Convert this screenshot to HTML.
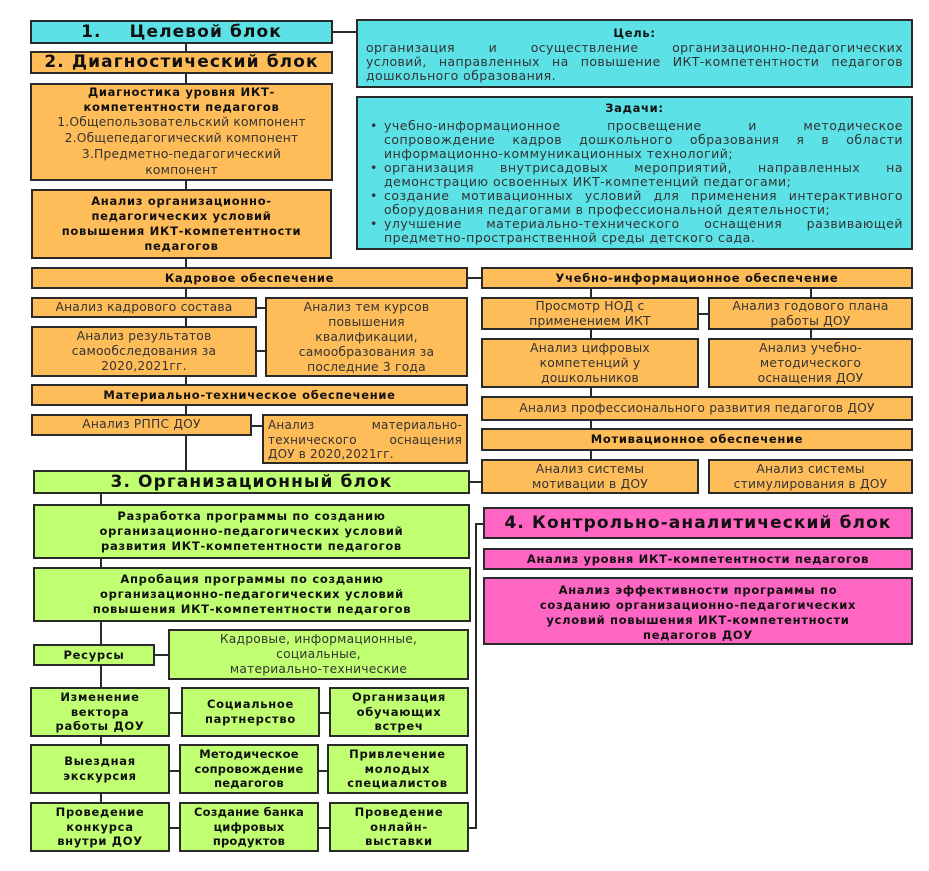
<!DOCTYPE html>
<html><head><meta charset="utf-8"><style>
body{margin:0;width:929px;height:871px;background:#fff;position:relative;overflow:hidden;font-family:"DejaVu Sans","Liberation Sans",sans-serif;color:#333}
.b{position:absolute;box-sizing:border-box;border:2px solid #2a2a2a;display:flex;align-items:center;justify-content:center;text-align:center;font-size:12.3px;line-height:1.3;padding:0 2px;white-space:nowrap;letter-spacing:0.2px}
.c{background:#5ce1e6}.o{background:#ffbd59}.g{background:#c1ff72}.p{background:#ff66c4}
.h{font-weight:bold;font-size:11.5px;line-height:1.3;color:#111;letter-spacing:0.7px}
.t{font-weight:bold;font-size:17px;color:#111;letter-spacing:1.1px}
.l{position:absolute;background:#2a2a2a}
.j{display:block;text-align:justify;text-align-last:justify;white-space:nowrap}
.e{display:block;text-align:left}
.li{position:relative;padding-left:18px}
.li:before{content:"•";position:absolute;left:4px;top:0}
</style></head><body>
<div class="l" style="left:185px;top:40px;width:2px;height:440px"></div>
<div class="l" style="left:333px;top:31px;width:23px;height:2px"></div>
<div class="l" style="left:468px;top:277px;width:13px;height:2px"></div>
<div class="l" style="left:590px;top:289px;width:2px;height:170px"></div>
<div class="l" style="left:810px;top:289px;width:2px;height:50px"></div>
<div class="l" style="left:699px;top:313px;width:9px;height:2px"></div>
<div class="l" style="left:257px;top:307px;width:8px;height:2px"></div>
<div class="l" style="left:257px;top:350px;width:8px;height:2px"></div>
<div class="l" style="left:252px;top:425px;width:10px;height:2px"></div>
<div class="l" style="left:470px;top:481px;width:11px;height:2px"></div>
<div class="l" style="left:100px;top:494px;width:2px;height:310px"></div>
<div class="l" style="left:155px;top:654px;width:13px;height:2px"></div>
<div class="l" style="left:170px;top:712px;width:160px;height:2px"></div>
<div class="l" style="left:170px;top:770px;width:160px;height:2px"></div>
<div class="l" style="left:170px;top:827px;width:160px;height:2px"></div>
<div class="l" style="left:469px;top:827px;width:8px;height:2px"></div>
<div class="l" style="left:475px;top:523px;width:2px;height:306px"></div>
<div class="l" style="left:475px;top:523px;width:8px;height:2px"></div>

<div class="b c t" style="left:30px;top:20px;width:303px;height:24px">1.&nbsp;&nbsp;&nbsp;&nbsp;Целевой блок</div>
<div class="b c" style="left:356px;top:19px;width:557px;height:69px;display:block;padding:4px 8px;line-height:14px;font-size:12.5px;letter-spacing:0.4px"><div class="h" style="text-align:center;line-height:16px">Цель:</div><span class="j">организация и осуществление организационно-педагогических</span><span class="j">условий, направленных на повышение ИКТ-компетентности педагогов</span><span class="e">дошкольного образования.</span></div>
<div class="b o t" style="left:30px;top:51px;width:303px;height:23px">2. Диагностический блок</div>
<div class="b o" style="left:30px;top:83px;width:303px;height:98px;flex-direction:column"><div class="h">Диагностика уровня ИКТ-<br>компетентности педагогов</div><div>1.Общепользовательский компонент<br>2.Общепедагогический компонент<br>3.Предметно-педагогический<br>компонент</div></div>
<div class="b c" style="left:356px;top:96px;width:557px;height:154px;display:block;padding:3px 8px;line-height:14px;font-size:12.5px;letter-spacing:0.5px"><div class="h" style="text-align:center;margin-bottom:3px">Задачи:</div>
<div class="li"><span class="j">учебно-информационное просвещение и методическое</span><span class="j">сопровождение кадров дошкольного образования я в области</span><span class="e">информационно-коммуникационных технологий;</span></div>
<div class="li"><span class="j">организация внутрисадовых мероприятий, направленных на</span><span class="e">демонстрацию освоенных ИКТ-компетенций педагогами;</span></div>
<div class="li"><span class="j">создание мотивационных условий для применения интерактивного</span><span class="e">оборудования педагогами в профессиональной деятельности;</span></div>
<div class="li"><span class="j">улучшение материально-технического оснащения развивающей</span><span class="e">предметно-пространственной среды детского сада.</span></div></div>
<div class="b o h" style="left:31px;top:189px;width:301px;height:70px">Анализ организационно-<br>педагогических условий<br>повышения ИКТ-компетентности<br>педагогов</div>
<div class="b o h" style="left:31px;top:267px;width:437px;height:22px">Кадровое обеспечение</div>
<div class="b o h" style="left:481px;top:267px;width:432px;height:22px">Учебно-информационное обеспечение</div>
<div class="b o" style="left:31px;top:297px;width:226px;height:21px">Анализ кадрового состава</div>
<div class="b o" style="left:265px;top:297px;width:203px;height:80px;line-height:15px">Анализ тем курсов<br>повышения<br>квалификации,<br>самообразования за<br>последние 3 года</div>
<div class="b o" style="left:31px;top:326px;width:226px;height:51px;line-height:15px">Анализ результатов<br>самообследования за<br>2020,2021гг.</div>
<div class="b o h" style="left:31px;top:384px;width:437px;height:22px">Материально-техническое обеспечение</div>
<div class="b o" style="left:31px;top:414px;width:221px;height:22px">Анализ РППС ДОУ</div>
<div class="b o" style="left:262px;top:414px;width:206px;height:50px;display:block;padding:2px 4px;line-height:14.5px;font-size:12px"><span class="j">Анализ материально-</span><span class="j">технического оснащения</span><span class="e">ДОУ в 2020,2021гг.</span></div>
<div class="b o" style="left:481px;top:297px;width:218px;height:33px;line-height:15px">Просмотр НОД с<br>применением ИКТ</div>
<div class="b o" style="left:708px;top:297px;width:205px;height:33px;line-height:15px">Анализ годового плана<br>работы ДОУ</div>
<div class="b o" style="left:481px;top:338px;width:218px;height:50px;line-height:15px">Анализ цифровых<br>компетенций у<br>дошкольников</div>
<div class="b o" style="left:708px;top:338px;width:205px;height:50px;line-height:15px">Анализ учебно-<br>методического<br>оснащения ДОУ</div>
<div class="b o" style="left:481px;top:396px;width:432px;height:25px">Анализ профессионального развития педагогов ДОУ</div>
<div class="b o h" style="left:481px;top:428px;width:432px;height:23px">Мотивационное обеспечение</div>
<div class="b o" style="left:481px;top:459px;width:218px;height:35px;line-height:15px">Анализ системы<br>мотивации в ДОУ</div>
<div class="b o" style="left:708px;top:459px;width:205px;height:35px;line-height:15px">Анализ системы<br>стимулирования в ДОУ</div>
<div class="b g t" style="left:33px;top:470px;width:437px;height:24px">3. Организационный блок</div>
<div class="b g h" style="left:33px;top:504px;width:437px;height:55px">Разработка программы по созданию<br>организационно-педагогических условий<br>развития ИКТ-компетентности педагогов</div>
<div class="b g h" style="left:33px;top:567px;width:438px;height:55px">Апробация программы по созданию<br>организационно-педагогических условий<br>повышения ИКТ-компетентности педагогов</div>
<div class="b g h" style="left:33px;top:644px;width:122px;height:22px">Ресурсы</div>
<div class="b g" style="left:168px;top:629px;width:301px;height:51px;line-height:15px">Кадровые, информационные,<br>социальные,<br>материально-технические</div>
<div class="b g h" style="left:30px;top:687px;width:140px;height:50px">Изменение<br>вектора<br>работы ДОУ</div>
<div class="b g h" style="left:181px;top:687px;width:139px;height:50px">Социальное<br>партнерство</div>
<div class="b g h" style="left:329px;top:687px;width:140px;height:50px">Организация<br>обучающих<br>встреч</div>
<div class="b g h" style="left:30px;top:744px;width:140px;height:50px">Выездная<br>экскурсия</div>
<div class="b g h" style="left:179px;top:744px;width:140px;height:50px;letter-spacing:0.2px">Методическое<br>сопровождение<br>педагогов</div>
<div class="b g h" style="left:327px;top:744px;width:141px;height:50px">Привлечение<br>молодых<br>специалистов</div>
<div class="b g h" style="left:30px;top:802px;width:140px;height:50px">Проведение<br>конкурса<br>внутри ДОУ</div>
<div class="b g h" style="left:179px;top:802px;width:140px;height:50px;letter-spacing:0.2px">Создание банка<br>цифровых<br>продуктов</div>
<div class="b g h" style="left:329px;top:802px;width:140px;height:50px">Проведение<br>онлайн-<br>выставки</div>
<div class="b p t" style="left:483px;top:507px;width:430px;height:32px">4. Контрольно-аналитический блок</div>
<div class="b p h" style="left:483px;top:548px;width:430px;height:22px">Анализ уровня ИКТ-компетентности педагогов</div>
<div class="b p h" style="left:483px;top:577px;width:430px;height:68px;align-items:flex-start;padding-top:4px">Анализ эффективности программы по<br>созданию организационно-педагогических<br>условий повышения ИКТ-компетентности<br>педагогов ДОУ</div>
</body></html>
